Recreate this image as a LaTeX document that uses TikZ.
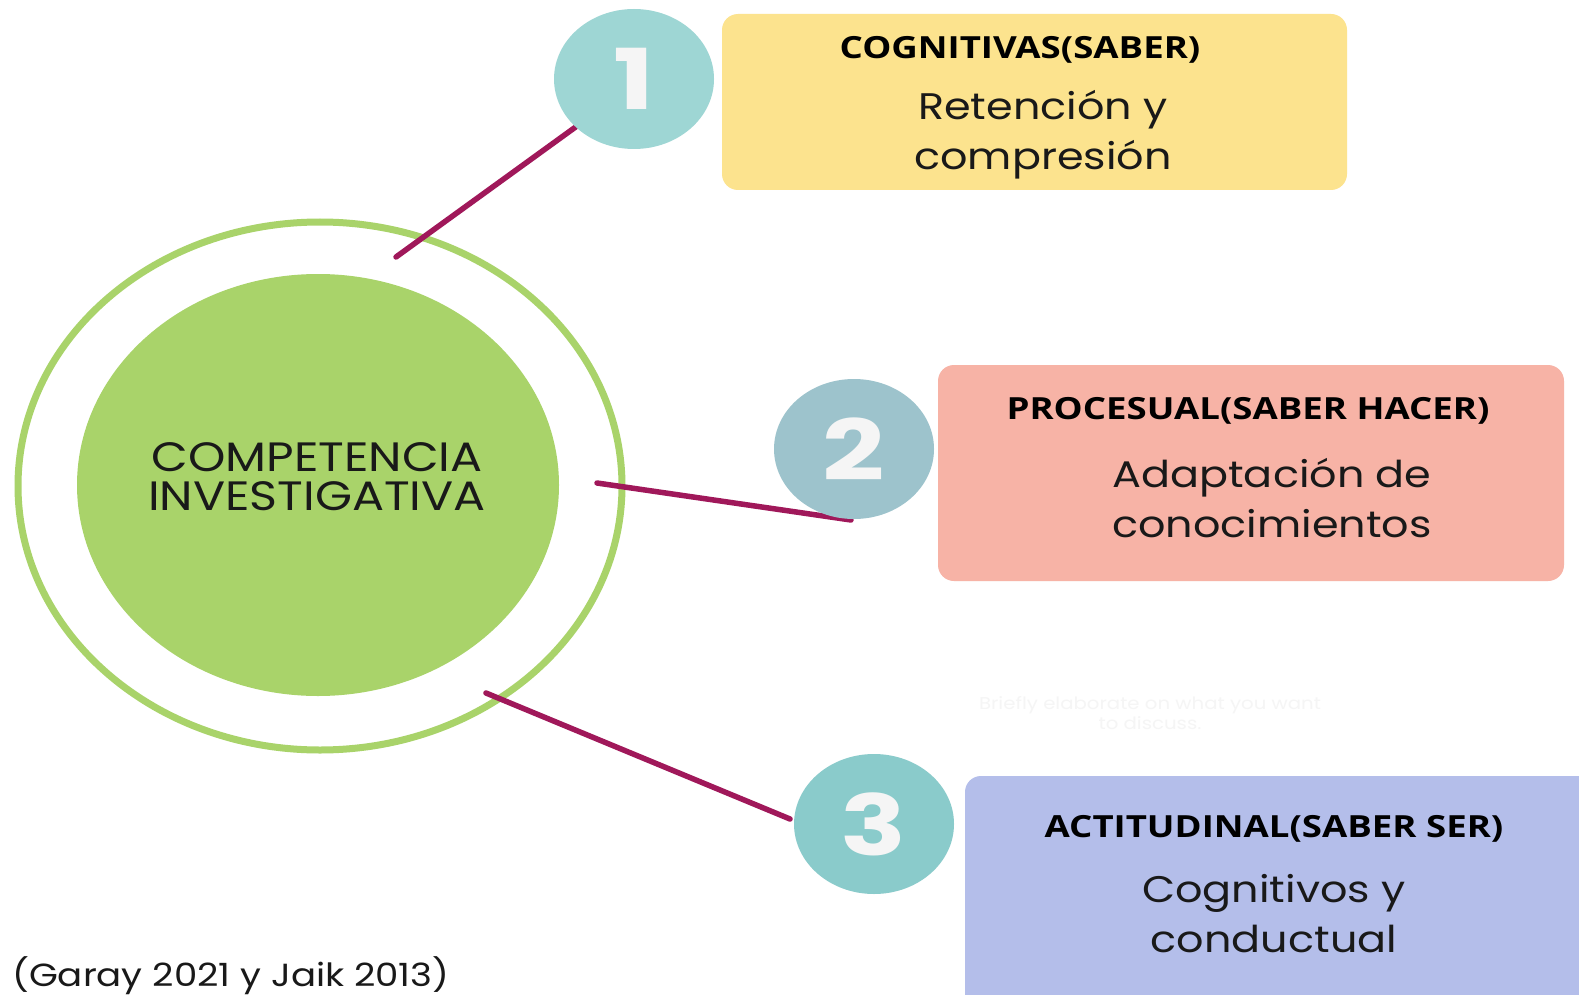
\documentclass[tikz,border=0pt]{standalone}
\usepackage{fontspec}
\setmainfont[FakeStretch=1.16]{Poppins}
\newfontfamily\headfont[FakeStretch=1.2]{Open Sans}
\newfontfamily\numfont[FakeStretch=1.3]{Poppins}
\definecolor{ringgreen}{HTML}{A9D36A}
\definecolor{fillgreen}{HTML}{A9D36A}
\definecolor{linkmag}{HTML}{A0185A}
\definecolor{cone}{HTML}{9ED6D4}
\definecolor{ctwo}{HTML}{9DC3CC}
\definecolor{cthree}{HTML}{8ACBCB}
\definecolor{boxyellow}{HTML}{FCE38E}
\definecolor{boxsalmon}{HTML}{F7B3A6}
\definecolor{boxlav}{HTML}{B4BEEA}
\tikzset{
  numcircle/.style={ellipse, minimum width=160pt, minimum height=140pt, inner sep=0pt, text=white!96!black, font=\numfont\fontsize{84}{84}\selectfont\bfseries},
  infobox/.style={rounded corners=16pt, inner sep=0pt},
  headtext/.style={font=\headfont\bfseries\fontsize{30.5}{34}\selectfont, text=black},
  bodytext/.style={font=\fontsize{37}{50}\selectfont, text=black!90, align=center},
  link/.style={draw=linkmag, line width=5.5pt, line cap=round},
}
\usetikzlibrary{shapes.geometric}
\begin{document}
\begin{tikzpicture}[x=1pt,y=-1pt]
\clip (0,0) rectangle (1579,995);
\fill[white] (0,0) rectangle (1579,995);
% central ring and disc
\node[ellipse, draw=ringgreen, line width=7pt, minimum width=604pt, minimum height=528pt, inner sep=0pt] (ring) at (320,486) {};
\node[ellipse, fill=fillgreen, minimum width=482pt, minimum height=422pt, inner sep=0pt] (core) at (318,485) {};
\node[font=\fontsize{41}{41}\selectfont, align=center, text=black!90] (title) at (317,477) {COMPETENCIA\\[-2pt]INVESTIGATIVA};
% connector end points
\coordinate (l1s) at (396,257);
\coordinate (l2s) at (597,483);
\coordinate (l2e) at (851,520);
\coordinate (l3s) at (486,693);
\coordinate (l3e) at (790,819);
% number circles
\path (634,79) coordinate (p1) (854,449) coordinate (p2) (874,824) coordinate (p3);
\draw[link] (l1s) -- (577,126) coordinate (l1e);
\draw[link] (l2s) -- (l2e);
\draw[link] (l3s) -- (l3e);
\node[numcircle, fill=cone] (c1) at (p1) {1};
\node[numcircle, fill=ctwo] (c2) at (p2) {2};
\node[numcircle, fill=cthree] (c3) at (p3) {3};
% boxes
\fill[boxyellow, infobox] (722,14) rectangle (1347,190);
\fill[boxsalmon, infobox] (938,365) rectangle (1564,581);
\fill[boxlav, infobox] (965,776) rectangle (1600,1010);
\node[headtext] (h1) at (1020,50) {COGNITIVAS(SABER)};
\node[bodytext] (b1) at (1043,135) {Retención y\\compresión};
\node[headtext] (h2) at (1248,411) {PROCESUAL(SABER HACER)};
\node[bodytext] (b2) at (1272,498) {Adaptación de\\conocimientos};
\node[headtext] (h3) at (1274,829) {ACTITUDINAL(SABER SER)};
\node[bodytext] (b3) at (1274,914) {Cognitivos y\\conductual};
% faint placeholder
\node[font=\fontsize{17}{20}\selectfont, text=black!4, align=center] (faint) at (1150,713) {Briefly elaborate on what you want\\to discuss.};
% citation
\node[anchor=west, font=\fontsize{32}{32}\selectfont, text=black!90, inner sep=0pt] (cite) at (12,976) {(Garay 2021 y Jaik 2013)};
\end{tikzpicture}
\end{document}
